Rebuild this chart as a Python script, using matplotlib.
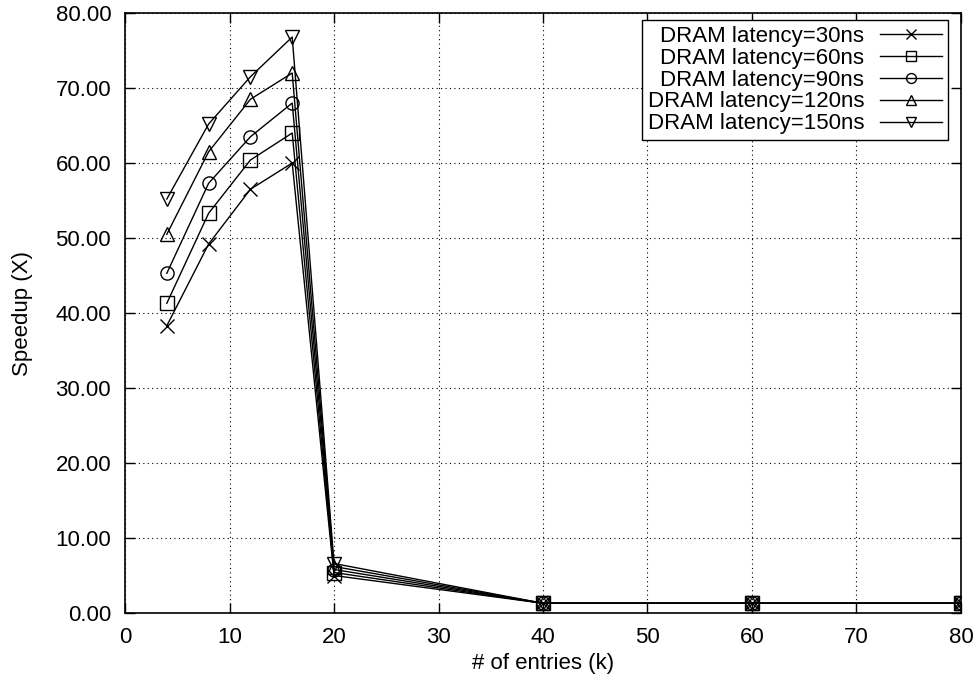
import matplotlib
matplotlib.use("Agg")
import matplotlib.pyplot as plt
from matplotlib.ticker import FormatStrFormatter

plt.rcParams['font.family'] = ['Liberation Sans', 'DejaVu Sans']

# table sizes (k entries)
entries = [4, 8, 12, 16, 20, 40, 60, 80]

# speedup per DRAM latency
lat30 = [38.3, 49.2, 56.5, 60.0, 5.0, 1.3, 1.3, 1.3]
lat60 = [41.3, 53.3, 60.4, 64.0, 5.4, 1.3, 1.3, 1.3]
lat90 = [45.3, 57.3, 63.5, 68.0, 5.8, 1.3, 1.3, 1.3]
lat120 = [50.5, 61.5, 68.5, 72.0, 6.2, 1.3, 1.3, 1.3]
lat150 = [55.2, 65.2, 71.5, 76.8, 6.6, 1.3, 1.3, 1.3]

labels = ['DRAM latency=30ns', 'DRAM latency=60ns', 'DRAM latency=90ns',
          'DRAM latency=120ns', 'DRAM latency=150ns']
series = [lat30, lat60, lat90, lat120, lat150]
markers = ['x', 's', 'o', '^', 'v']

fig = plt.figure(figsize=(9.79, 6.86), dpi=100)
ax = fig.add_axes([0.1277, 0.1064, 0.8539, 0.8746])

for vals, lab, m in zip(series, labels, markers):
    ax.plot(entries, vals, color='black', lw=1.0, marker=m, markersize=9.5,
            markerfacecolor='none', markeredgecolor='black', markeredgewidth=1.0,
            label=lab)

ax.set_xlim(0, 80)
ax.set_ylim(0, 80)
ax.set_xticks(range(0, 81, 10))
ax.set_yticks(range(0, 81, 10))
ax.yaxis.set_major_formatter(FormatStrFormatter('%.2f'))

ax.grid(True, color='black', linestyle=(0, (1, 3)), linewidth=0.8)
ax.tick_params(direction='in', length=7, width=1, top=True, right=True,
               labelsize=16, pad=10)
for sp in ax.spines.values():
    sp.set_linewidth(1.2)

ax.set_xlabel('# of entries (k)', fontsize=16, labelpad=4)
ax.set_ylabel('Speedup (X)', fontsize=16, labelpad=16)

leg = ax.legend(loc='upper right', bbox_to_anchor=(0.984, 0.988),
                markerfirst=False, fontsize=16, markerscale=0.75,
                frameon=True, fancybox=False, edgecolor='black',
                handlelength=2.8, handletextpad=0.7, labelspacing=0.04,
                borderpad=0.25, borderaxespad=0)
leg.get_frame().set_linewidth(1.0)
leg.get_frame().set_alpha(1.0)

fig.savefig('out.png', dpi=100)
